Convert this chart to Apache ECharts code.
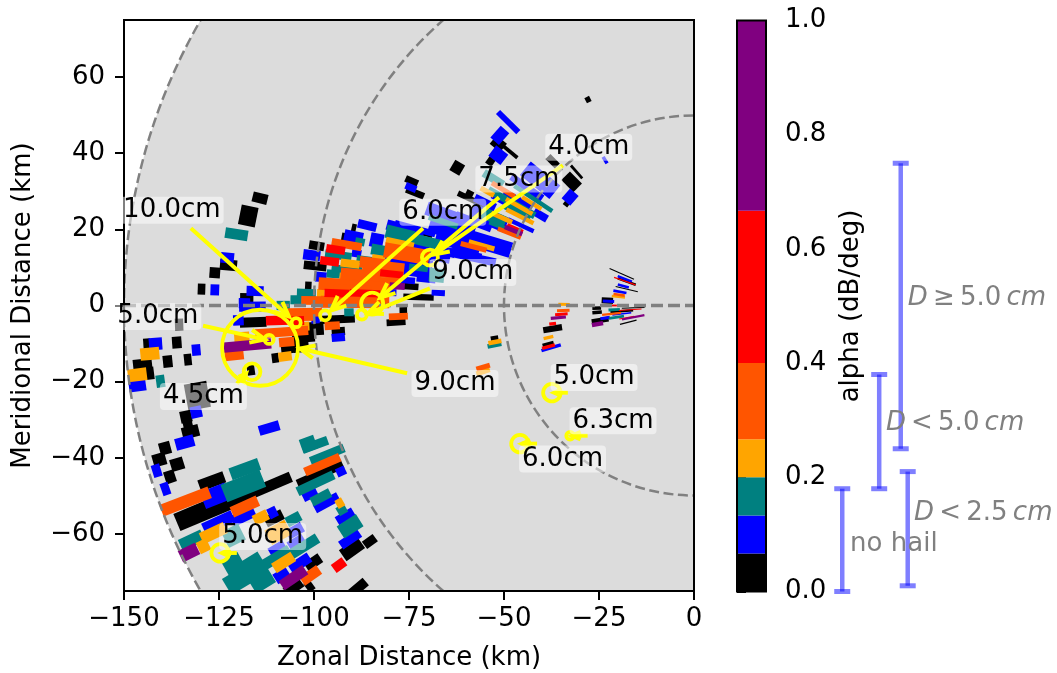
<!DOCTYPE html>
<html>
<head>
<meta charset="utf-8">
<style>html,body{margin:0;padding:0;background:#fff}#c{width:1057px;height:673px}</style>
<script src="https://cdn.jsdelivr.net/npm/echarts@6/dist/echarts.min.js"></script>
</head>
<body>
<div id="c"></div>
<script>
// Radar gates, km: [x of gate centre, y of gate centre, gate length along the beam, beams wide]
const blackGates = [
[-128.7,-53.9,16,2],[-115.3,-48.9,20],[-126.9,-46.2,7],[-110.5,-55.9,5],[-100.2,-67.5,4.5],[-105.4,-74,5],[-101.2,-73.7,2],[-88.3,-74.1,5],
[-98.4,-44.3,13],[-90,-64,6,1.8],[-85.3,-62,3.5],[-133.7,-29.2,3],[-133.2,-31.3,2.5],[-132.5,-33.2,4.5],[-130.7,-23.7,6,3],
[-139.2,-37.5,3],[-140.7,-40.5,3.5],[-136,-41.7,3.5],[-137.9,-45,2.8],[-144,-10.3,1.8],[-136.1,-9.7,2.5],[-138.5,-14.7,2.5],[-133.2,-14.2,2],
[-145.1,-15.7,5],[-143.2,-17.8,2.2],[-110.2,-13.8,1.8],[-106.9,-11.4,3.5],[-103.5,-9.6,4,3],[-116.6,-17,2],[-116,-4.4,7],[-117.7,1.9,3.5],
[-114.2,28.2,4],[-117.3,23.5,4.5,2.5],[-122.5,10.6,4.5],[-126.1,8.6,2.8],[-129.6,4.3,2],[-135.5,-5,2.2],
[-99.7,-6.1,4.5,2],[-102.8,-7.9,6,2],[-93.6,-6.8,3.5],[-93.6,-3.6,8.7],[-101.5,5.1,1.7],[-99.7,10.4,6],[-99.3,15.7,4],[-92.1,18,1.3],[-89.5,20.4,1.2],
[-75,5,5],[-78.4,-4.4,5],[-76.5,-1.3,2],[-72.5,2.2,8],[-71.7,19.3,6],
[-51.5,42.5,3.5,2.5],[-48.4,40.4,5,0.9],[-53.5,37.9,2,2],[-62.3,36.2,3,2.5],[-27.9,54.1,1.5],[-30.9,35.1,4.5,0.9],[-32.2,32.5,4.5,4],[-33.5,26.8,1.5,2],
[-37.2,37.9,3.5,2],[-74.3,32.7,3.5],[-73.4,29.6,5],[-59.2,29.1,2,2],[-58.5,27.8,8],
[-37.2,-6.1,5,2.5],[-38.4,-10.1,3],[-52.5,-8.6,2],
[-19,8.3,7,0.8],[-17.7,6.3,5,2],[-17.7,4.3,6,0.9],[-22.8,1.3,3,4],[-25.6,-0.7,2.3,2],[-25.5,-1.8,2.5,2],[-16,-0.6,6,1],[-24.7,-3.9,4.5,3],[-17.3,-4.4,4.5,1],[-19,-1.5,6,2]
];
const blueGates = [
[-126,-50,7,2],[-125.2,-57,8.5],[-118.6,-55.4,6.5],[-110.9,-54.4,2.4],[-105,-59.2,4.5],[-104.6,-62.3,4.5],[-109.6,-64,4.5],[-103.7,-67.7,6],[-108.5,-70.9,4],
[-92.9,-43.6,2.5],[-101.1,-49.6,4],[-96.7,-51.8,7],[-91.8,-55.4,5],[-90.5,-61.4,6],[-111.8,-32.2,5.5],[-134,-36,5],[-131,-28,3],
[-141.4,-43.4,2.3],[-139.1,-48.2,2.2],[-141.7,-10.1,3.5],[-131,-11.7,2.3],[-146.5,-20.9,4.5],[-119.9,-3.9,2.8],[-118.3,0.6,3],[-115.5,3.8,4.5],[-116.2,-0.3,7],
[-122.8,12.5,3.5],[-126.1,4.1,2.3],[-99.6,-3.6,2.2],[-93.6,-8.4,3.5],[-98.2,7.5,3,1.5],[-100.6,13.2,4.5,1.5],[-89.6,18,5,2],[-86,21,5,1.5],[-83.5,17.1,3.5,2.5],
[-88.8,13.7,2.5],[-81.3,3.5,6],[-75.4,6.6,4],[-70.4,7.9,5,3],[-73.4,20.2,11],[-66.8,14.5,8,2],[-67.3,3.3,3.5],
[-48.9,48.2,7.5,1.3],[-51.1,44.7,3,3.5],[-51.5,39.5,4,3],[-32.6,28.5,3,4.5],[-23.4,38.2,2,1.2],[-74.5,31,3],[-40.5,32.9,10,5],[-51,27.6,5],[-63.8,23.2,14,3],
[-40.4,23.7,4,2.5],[-45.6,21.1,7.5],[-56.8,17.1,18,4],[-59.8,13.8,8],[-70.4,10.1,3,3],
[-63,19,14,3],[-60,13,16,2],[-55,27,6,2],[-44,31,10,2],[-58,22,10,2],
[-70,14,12,3],[-62,17,12,4],[-54,23,10,4],[-47,27,8,4],[-76,20,10,2],[-78,11,12,4],
[-37.6,-11.1,5.3],[-18.2,7,4,2],[-18.6,5.1,3,2],[-19.5,3.6,3.5,2],[-22.5,1.1,3,2],[-23.4,-3.3,2.5,2],[-19,-2.2,5]
];
const tealGates = [
[-118.2,-43,8,1.5],[-118.6,-47.4,11,2.2],[-132.2,-61.7,6.5],[-121.2,-60.5,5,2],[-105.4,-56.1,4],[-104.6,-64.5,13],[-121.2,-68,5,2],[-120.4,-72.4,6,2],[-115,-70.2,6,4],[-109.8,-66.2,8],
[-101.5,-36.4,4,2],[-99.7,-36.6,7],[-96.5,-39.2,9.5],[-99.6,-46.7,10.5],[-98.2,-50.4,5.5],[-92.7,-53.7,2.5],[-90.5,-58,6,2],[-140.4,-19.9,2.3],
[-108.1,0,3.5],[-120.4,18.7,6],[-102,3.2,5],[-104.7,1.5,3],[-90.8,-1.8,2.5],[-94.9,8.3,3.5],[-91.4,9.4,8],[-93.6,13.2,7],[-87.9,16.7,2.5],[-86.8,12,4],[-82.5,14.5,3],
[-77.4,18.7,7.5,2.5],[-72.5,9.9,5],[-69.5,17.1,7],[-72.1,17.1,11,2],[-67.7,7.9,4,3],[-80,14,10,2],
[-52.8,33.3,6,2],[-42.3,28.1,12],[-46.7,24.6,8,2],[-52.8,23.2,7,3],[-50.6,20.6,7],[-48,27,14,2],[-66,22,8],[-52.5,-10.4,3.7],[-21,-1.1,3,2],[-20.4,-3.1,4,2]
];
const amberGates = [
[-114,-55.7,4],[-126.5,-59.8,7],[-129.1,-63.2,3],[-109.4,-59.6,6,2],[-108,-67.5,6],[-93.2,-51.9,2],[-143.2,-12.7,5],[-146.5,-18.2,5],[-107.6,-13.4,3.5],[-119,-8.3,4],
[-103.7,-5.5,5],[-98.2,3.2,2],[-88.8,7.3,9],[-90.5,11,5],[-83,12.3,3.5],[-77.4,16.4,7.5],
[-54.4,29.9,4],[-42.7,26.9,6],[-45.8,23.4,8],[-50.6,23.1,6],[-55.9,15.8,7],[-46,26,8],[-34.2,0.3,3],[-38.3,-8.4,2.6],[-52.4,-9.6,3.5],[-55.5,-17.4,3.7],[-19.9,2.3,3.5,2]
];
const orangeGates = [
[-133.8,-51.5,13.6],[-118.2,-52.8,7.5],[-100.9,-70.9,5.5],[-97.8,-41.8,10],[-121,-13,5],[-107.2,-9.6,4],[-108.5,-7,14],[-103.2,-2.9,6],
[-100.6,1.3,5.5],[-102.4,-1.8,9],[-95.2,-5.3,4],[-92.3,5.4,13,2],[-89.2,0.9,18,2],[-91.4,16,8],[-81.8,9.5,11,3],[-81.3,6,8,2],[-75.6,13.6,12,3],[-77.8,-2.9,5],
[-88,8,10,2],[-85,5,10,2],[-84,11,8,2],[-90,3,10,3],
[-50.2,30.4,7],[-48.6,19,6.5],[-58,15.4,7],[-34.4,-1.3,3.3],[-55.5,-16.2,3.7],[-19.7,2.8,3,2],[-21.7,-2.2,5,1.5]
];
const redGates = [
[-93.4,-68.2,3.5],[-109.4,-3.9,6.5],[-104.6,-4,4],[-94,3.2,6.5],[-86.6,3.2,8],[-95.9,11.6,5],[-94.3,14.7,5],[-79.6,8.3,6],
[-47.1,20.2,4.5],[-37.2,-4.8,1.8],[-38.3,-10.8,3.5],[-34.9,-2.3,3.3],[-18.2,6.4,6,1],[-21.2,0,1.8],[-16.8,-1.1,6,1],[-17.7,-3.2,4,1]
];
const purpleGates = [
[-132.9,-64.9,5],[-105.4,-71.5,7.5],[-117.5,-10.5,12.5],[-78.1,5.1,4],[-47.5,19.7,5],[-35.7,-3.2,4],[-16,-3.1,6,2],[-25.4,-4.9,3,2.5]
];
const gateGroups = [blackGates, blueGates, tealGates, amberGates, orangeGates, redGates, purpleGates];
const binColors = ['#000000','#0000ff','#008080','#ffa500','#ff5500','#ff0000','#800080'];
const binEdges = [0,0.0667,0.1333,0.2,0.2667,0.4,0.6667,1];

const rangeRings = [50,100,150];
// Hail markers, km: [x, y, circle radius]
const hailMarkers = [[-114.2,-11.1,10],[-104.7,-4.5,1.2],[-111.8,-8.9,1.2],[-116.3,-17.4,2.2],[-97.1,-2.6,1.3],[-87.4,-2.4,1.3],
[-84.7,0.5,2.9],[-69.5,12.6,2.1],[-37.4,-22.9,2.3],[-45.8,-36.3,2.3],[-32.6,-34.2,1],[-124.7,-65,2.3]];
// Annotations: text, label centre, arrow start, arrow tip (km)
const hailTexts = ['10.0cm','5.0cm','9.0cm','9.0cm','6.0cm','7.5cm','4.0cm','4.5cm','5.0cm','5.0cm','6.3cm','6.0cm'];
const labelCentres = [[-137.4,25],[-141.1,-2.9],[-62.9,-20.5],[-58.2,8.7],[-66.1,24.5],[-46.1,33.2],[-27.7,41.6],[-129.1,-23.9],[-113.5,-60.7],[-26.3,-18.9],[-21.3,-30.3],[-34.6,-40.3]];
const arrowStarts = [[-132.4,20.3],[-129.2,-5.3],[-75.5,-17.8],[-69.5,4.5],[-71.3,20.3],[-51.3,28.4],[-34.5,36.8],[-120.3,-20.5],[-120.3,-65],[-33.2,-22.9],[-28,-34.2],[-41.3,-36.3]];
const arrowTips = [[-106.6,-2.9],[-112.9,-8.9],[-103.7,-11.3],[-85.8,-2.1],[-95.5,-1.3],[-82.6,2.1],[-68.4,13.4],[-117.9,-17.9],[-124.2,-65],[-36.8,-22.9],[-32.1,-34.2],[-45.3,-36.3]];

const xTicks = [-150,-125,-100,-75,-50,-25,0];
const yTicks = [-60,-40,-20,0,20,40,60];
// Hail-class brackets against the colour bar: [bracket position, low alpha, high alpha]
const brackets = [[26.2,0,0.18],[38.9,0.18,0.38],[46.3,0.25,0.75],[48.7,0.01,0.21]];
const classLabels = [['no hail',28.9,0.082],['{i|D}\u2009<\u20095.0\u2009{i|cm}',41.2,0.294],['{i|D}\u2009≥\u20095.0\u2009{i|cm}',48.7,0.513],['{i|D}\u2009<\u20092.5\u2009{i|cm}',50.9,0.137]];

const FONT = '"DejaVu Sans"';
const FS = 26;
const minus = v => String(v).replace('-', '\u2212');
const beamWidth = Math.PI / 180;
const DEFAULT_BEAMS = 1.3;

const gateData = [];
gateGroups.forEach((g, b) => g.forEach(d => gateData.push([d[0], d[1], d[2], d[3] || DEFAULT_BEAMS, b])));

function renderGate(params, api) {
  const x = api.value(0), y = api.value(1), len = api.value(2), beams = api.value(3);
  const r = Math.hypot(x, y), ux = x / r, uy = y / r, vx = -uy, vy = ux;
  const hw = beams * r * beamWidth / 2, hl = len / 2;
  const pts = [[hl, hw], [hl, -hw], [-hl, -hw], [-hl, hw]].map(p =>
    api.coord([x + ux * p[0] + vx * p[1], y + uy * p[0] + vy * p[1]]));
  return { type: 'polygon', shape: { points: pts }, style: { fill: binColors[api.value(4)] } };
}
function renderDisc(params, api) {
  const c = api.coord([0, 0]);
  return { type: 'circle', shape: { cx: c[0], cy: c[1], r: api.size([api.value(0), 0])[0] }, style: { fill: '#dcdcdc' } };
}
function renderRing(params, api) {
  const c = api.coord([0, 0]);
  return { type: 'circle', shape: { cx: c[0], cy: c[1], r: api.size([api.value(0), 0])[0] },
    style: { fill: 'none', stroke: '#808080', lineWidth: 2.5, lineDash: [10, 4.5] } };
}
function renderHail(params, api) {
  const c = api.coord([api.value(0), api.value(1)]);
  return { type: 'circle', shape: { cx: c[0], cy: c[1], r: api.size([api.value(2), 0])[0] },
    style: { fill: 'none', stroke: '#ffff00', lineWidth: 3.8 } };
}
function renderArrow(params, api) {
  const a = api.coord([api.value(0), api.value(1)]), t = api.coord([api.value(2), api.value(3)]);
  const ang = Math.atan2(a[1] - t[1], a[0] - t[0]), S = 0.42;
  const L = Math.min(16, 0.6 * Math.hypot(a[0] - t[0], a[1] - t[1]));
  const b1 = [t[0] + L * Math.cos(ang + S), t[1] + L * Math.sin(ang + S)];
  const b2 = [t[0] + L * Math.cos(ang - S), t[1] + L * Math.sin(ang - S)];
  const st = { fill: 'none', stroke: '#ffff00', lineWidth: 4 };
  return { type: 'group', children: [
    { type: 'polyline', shape: { points: [a, t] }, style: st },
    { type: 'polyline', shape: { points: [b1, t, b2] }, style: st }
  ] };
}
function renderLabel(params, api) {
  const c = api.coord([api.value(0), api.value(1)]);
  return { type: 'text', x: c[0], y: c[1], style: {
    text: hailTexts[api.value(2)], fontFamily: FONT, fontSize: FS, fill: '#000',
    align: 'center', verticalAlign: 'middle', backgroundColor: 'rgba(255,255,255,0.5)',
    padding: [1, 3, 0, 3], borderRadius: 4 } };
}
function renderFrame(xr, yr) {
  return function (params, api) {
    const p0 = api.coord([xr[0], yr[1]]), p1 = api.coord([xr[1], yr[0]]);
    return { type: 'rect', shape: { x: p0[0], y: p0[1], width: p1[0] - p0[0], height: p1[1] - p0[1] },
      style: { fill: 'none', stroke: '#000', lineWidth: 2 } };
  };
}
function renderBin(params, api) {
  const p0 = api.coord([0, api.value(1)]), p1 = api.coord([1, api.value(0)]);
  return { type: 'rect', shape: { x: p0[0], y: p0[1], width: p1[0] - p0[0], height: p1[1] - p0[1] },
    style: { fill: binColors[params.dataIndex] } };
}
function renderBracket(params, api) {
  const lo = api.coord([api.value(0), api.value(1)]), hi = api.coord([api.value(0), api.value(2)]);
  const st = { fill: 'none', stroke: '#0000ff', lineWidth: 4.5, opacity: 0.5 };
  const capSt = { fill: 'none', stroke: '#0000ff', lineWidth: 5, opacity: 0.5 };
  return { type: 'group', children: [
    { type: 'line', shape: { x1: lo[0], y1: lo[1], x2: hi[0], y2: hi[1] }, style: st },
    { type: 'line', shape: { x1: lo[0] - 8, y1: lo[1], x2: lo[0] + 8, y2: lo[1] }, style: capSt },
    { type: 'line', shape: { x1: hi[0] - 8, y1: hi[1], x2: hi[0] + 8, y2: hi[1] }, style: capSt }
  ] };
}
function renderClass(params, api) {
  const c = api.coord([api.value(0), api.value(1)]);
  return { type: 'text', x: c[0], y: c[1], style: {
    text: classLabels[params.dataIndex][0], fontFamily: FONT, fontSize: FS, fill: '#808080',
    align: 'left', verticalAlign: 'middle',
    rich: { i: { fontFamily: FONT, fontSize: FS, fontStyle: 'italic', fill: '#808080' } } } };
}
const mainAxes = { xAxisIndex: 0, yAxisIndex: 0 };
const tickStyle = { show: true, length: 9, lineStyle: { color: '#000', width: 2 } };

const option = {
  animation: false,
  backgroundColor: '#fff',
  textStyle: { fontFamily: FONT },
  grid: [
    { left: 124, top: 20, width: 570, height: 571, outerBoundsMode: 'none' },
    { left: 737, top: 20.5, width: 29, height: 571, outerBoundsMode: 'none' },
    { left: 766, top: 20.5, width: 291, height: 571, outerBoundsMode: 'none' }
  ],
  xAxis: [
    { type: 'value', gridIndex: 0, min: -150, max: 0, interval: 25, splitLine: { show: false }, axisLine: { show: false, onZero: false },
      axisTick: tickStyle, axisLabel: { fontFamily: FONT, fontSize: FS, color: '#000', margin: 15, formatter: minus, customValues: xTicks },
      name: 'Zonal Distance (km)', nameLocation: 'middle', nameGap: 54, nameTextStyle: { fontFamily: FONT, fontSize: FS, color: '#000' } },
    { type: 'value', gridIndex: 1, min: 0, max: 1, show: false },
    { type: 'value', gridIndex: 2, min: 0, max: 100, show: false }
  ],
  yAxis: [
    { type: 'value', gridIndex: 0, min: -75, max: 75, splitLine: { show: false }, axisLine: { show: false, onZero: false },
      axisTick: Object.assign({ customValues: yTicks }, tickStyle),
      axisLabel: { fontFamily: FONT, fontSize: FS, color: '#000', margin: 19, padding: [3, 0, 0, 0], formatter: minus, customValues: yTicks },
      name: 'Meridional Distance (km)', nameLocation: 'middle', nameGap: 88, nameTextStyle: { fontFamily: FONT, fontSize: FS, color: '#000' } },
    { type: 'value', gridIndex: 1, min: 0, max: 1, interval: 0.2, position: 'right', splitLine: { show: false }, axisLine: { show: false },
      axisTick: tickStyle, axisLabel: { fontFamily: FONT, fontSize: FS, color: '#000', margin: 19, padding: [3, 0, 0, 0], formatter: v => v.toFixed(1) },
      name: 'alpha (dB/deg)', nameLocation: 'middle', nameRotate: 90, nameGap: 72, nameTextStyle: { fontFamily: FONT, fontSize: FS, color: '#000' } },
    { type: 'value', gridIndex: 2, min: 0, max: 1, show: false }
  ],
  series: [
    Object.assign({ type: 'custom', name: 'coverage', z: 1, clip: true, renderItem: renderDisc, data: [[rangeRings[2]]] }, mainAxes),
    Object.assign({ type: 'custom', name: 'gates', z: 2, clip: true, renderItem: renderGate, data: gateData }, mainAxes),
    Object.assign({ type: 'custom', name: 'rings', z: 3, clip: true, renderItem: renderRing, data: rangeRings.map(r => [r]) }, mainAxes),
    Object.assign({ type: 'line', name: 'zero', z: 3, showSymbol: false, silent: true, lineStyle: { color: '#808080', width: 3.5, type: [12, 5] }, data: [[-150, 0], [0, 0]] }, mainAxes),
    Object.assign({ type: 'custom', name: 'hail', z: 4, clip: true, renderItem: renderHail, data: hailMarkers }, mainAxes),
    Object.assign({ type: 'custom', name: 'arrows', z: 4, renderItem: renderArrow, data: arrowStarts.map((s, i) => [s[0], s[1], arrowTips[i][0], arrowTips[i][1]]) }, mainAxes),
    Object.assign({ type: 'custom', name: 'frame', z: 5, renderItem: renderFrame([-150, 0], [-75, 75]), data: [[0, 0]] }, mainAxes),
    Object.assign({ type: 'custom', name: 'labels', z: 6, renderItem: renderLabel, data: labelCentres.map((c, i) => [c[0], c[1], i]) }, mainAxes),
    { type: 'custom', name: 'colorbar', xAxisIndex: 1, yAxisIndex: 1, z: 2, renderItem: renderBin,
      data: binColors.map((c, i) => [binEdges[i], binEdges[i + 1]]) },
    { type: 'custom', name: 'colorframe', xAxisIndex: 1, yAxisIndex: 1, z: 3, renderItem: renderFrame([0, 1], [0, 1]), data: [[0, 0]] },
    { type: 'custom', name: 'brackets', xAxisIndex: 2, yAxisIndex: 2, z: 3, renderItem: renderBracket, data: brackets },
    { type: 'custom', name: 'classes', xAxisIndex: 2, yAxisIndex: 2, z: 4, renderItem: renderClass, data: classLabels.map(c => [c[1], c[2]]) }
  ]
};
echarts.init(document.getElementById('c'), null, { renderer: 'canvas' }).setOption(option);
</script>
</body>
</html>
